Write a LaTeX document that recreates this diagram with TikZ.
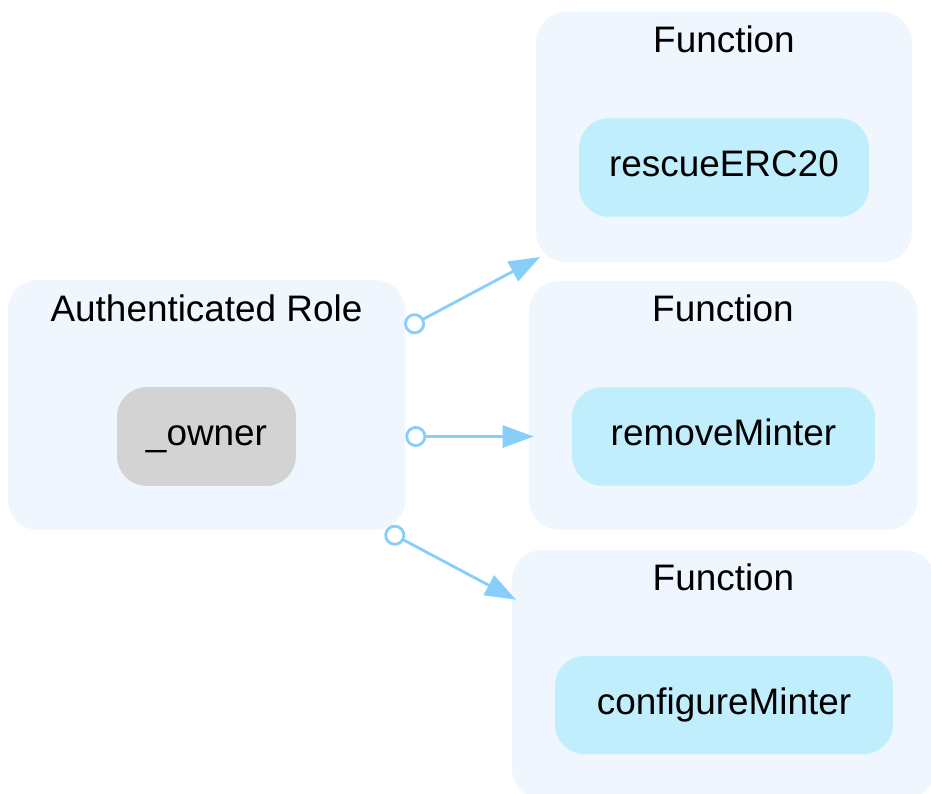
\documentclass[tikz,border=0pt]{standalone}
\usepackage{fontspec}
\setmainfont{Liberation Sans}
\usetikzlibrary{arrows.meta}
\definecolor{clusterbg}{HTML}{EFF6FE}
\definecolor{fnblue}{HTML}{C0EEFC}
\definecolor{rolegray}{HTML}{D3D3D3}
\definecolor{edgeblue}{HTML}{87CEFA}

\begin{document}
\begin{tikzpicture}[x=0.02cm, y=-0.02cm,
    every node/.style={font=\fontsize{21}{25}\selectfont, inner sep=0pt, text height=15pt, text depth=4.2pt},
    cluster/.style={fill=clusterbg, rounded corners=0.6cm},
    fnnode/.style={fill=fnblue, rounded corners=0.6cm, minimum height=1.97cm},
    rolenode/.style={fill=rolegray, rounded corners=0.6cm, minimum height=1.98cm},
    edge/.style={edgeblue, line width=1.6pt, shorten >=-0.1cm,
      {Circle[fill=white, length=0.42cm]}-{Triangle[length=0.62cm, width=0.44cm]}}]
        \useasboundingbox (0,0) rectangle (931,794);
        % role side
        \node[cluster, minimum width=7.94cm, minimum height=5cm] (role) at (206.5,405) {};
        \node (roletitle) at (206.5,312) {Authenticated Role};
        \node[rolenode, minimum width=3.58cm] (owner) at (206.5,436.5) {\_owner};
        % functions
        \node[cluster, minimum width=7.52cm, minimum height=5cm] (fnA) at (724,137) {};
        \node (fnAtitle) at (724,43) {Function};
        \node[fnnode, minimum width=5.8cm] (rescue) at (724,167.5) {rescueERC20};
        \node[cluster, minimum width=7.76cm, minimum height=4.98cm] (fnB) at (723,405.5) {};
        \node (fnBtitle) at (723,312) {Function};
        \node[fnnode, minimum width=6.06cm] (remove) at (723.5,436.5) {removeMinter};
        \node[cluster, minimum width=8.46cm, minimum height=4.98cm] (fnC) at (723.5,674.5) {};
        \node (fnCtitle) at (723.5,581) {Function};
        \node[fnnode, minimum width=6.76cm] (configure) at (724,705) {configureMinter};
        % edges
        \draw[edge] (role.21) -- (fnA.213);
        \draw[edge] (role.east |- owner) -- (fnB.west |- remove);
        \draw[edge] (role.325) -- (fnC.160);
      \end{tikzpicture}
\end{document}
